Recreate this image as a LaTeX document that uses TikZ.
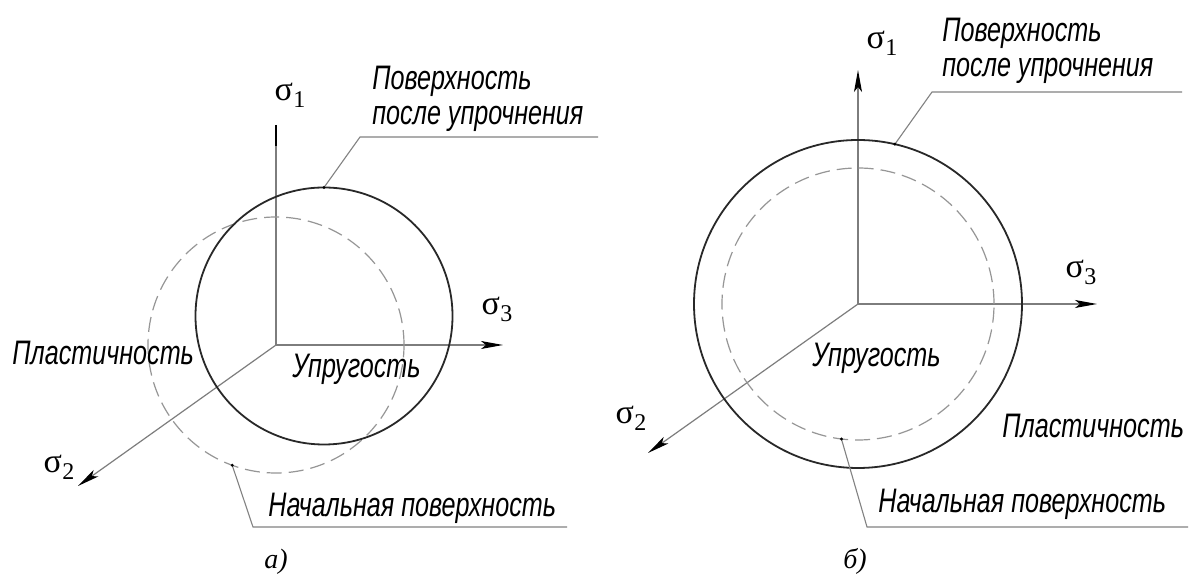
\documentclass[tikz,border=0pt]{standalone}
\usepackage{fontspec}
\setmainfont{Liberation Serif}
\newfontfamily\gostfont[FakeStretch=0.74]{Liberation Sans}
\usetikzlibrary{arrows.meta}
\definecolor{axisgray}{RGB}{125,125,125}
\definecolor{dashgray}{RGB}{150,150,150}
\definecolor{leadgray}{RGB}{130,130,130}
\definecolor{solidc}{RGB}{40,40,40}
\newcommand{\sig}[1]{σ\kern0.3pt\raisebox{-3.5pt}{\fontsize{12}{13}\selectfont #1}}
\begin{document}
\begin{tikzpicture}[x=0.5pt,y=-0.5pt,
  axisline/.style={draw=axisgray, line width=0.6pt},
  axarrow/.style={axisline, -{Stealth[length=11pt,width=4pt,inset=2.5pt,color=black]}},
  solidcirc/.style={circle, draw=solidc, line width=0.9pt, inner sep=0pt, outer sep=0pt},
  dashcirc/.style={circle, draw=dashgray, line width=0.6pt, dash pattern=on 7.5pt off 3.5pt, inner sep=0pt, outer sep=0pt},
  leader/.style={draw=leadgray, line width=0.55pt},
  gosttext/.style={font=\gostfont\itshape\fontsize{17}{19}\selectfont, inner sep=0pt, anchor=base west},
  siglabel/.style={font=\fontsize{17}{19}\selectfont, inner sep=0pt},
  caption/.style={font=\itshape\fontsize{14}{16}\selectfont, inner sep=0pt, anchor=base}]
\fill[white] (0,0) rectangle (1189,576);
\useasboundingbox (0,0) rectangle (1189,576);

% ---------- figure a ----------
\coordinate (Oa) at (276,345);
\coordinate (a1) at (276,125);
\coordinate (a1b) at (276,146);
\coordinate (a3) at (503,345);
\coordinate (a2) at (78,486);
\draw[axisline] (Oa) -- (a1);
\draw[line width=1pt, black] (a1) -- (a1b);
\draw[axarrow] (Oa) -- (a3);
\draw[axarrow] (Oa) -- (a2);

\node[dashcirc, minimum size=128pt] (Da) at (276,345) {};
\node[solidcirc, minimum size=128.5pt] (Sa) at (324,316) {};

\node[siglabel] (s1a) at (290,95) {\sig{1}};
\node[siglabel] (s3a) at (497,309) {\sig{3}};
\node[siglabel] (s2a) at (59,467) {\sig{2}};

\coordinate (la1) at (360,137);
\coordinate (la2) at (598,137);
\draw[leader] (Sa.90) -- (la1) -- (la2);
\fill (Sa.90) circle (0.8pt);
\node[gosttext] (ta1) at (372,90) {Поверхность};
\node[gosttext] (ta2) at (372,125) {после упрочнения};

\coordinate (lb1) at (253,527);
\coordinate (lb2) at (567,527);
\draw[leader] (Da.250.4) -- (lb1) -- (lb2);
\fill (Da.250.4) circle (0.8pt);
\node[gosttext] (ta3) at (268,517) {Начальная поверхность};

\node[gosttext] (ta4) at (12,365) {Пластичность};
\node[gosttext] (ta5) at (292,378) {Упругость};
\node[caption] (capa) at (276,569) {а)};

% ---------- figure b ----------
\coordinate (Ob) at (858,304);
\coordinate (b1) at (858,70);
\coordinate (b3) at (1097,304);
\coordinate (b2) at (648,453);
\draw[axarrow] (Ob) -- (b1);
\draw[axarrow] (Ob) -- (b3);
\draw[axarrow] (Ob) -- (b2);

\node[dashcirc, minimum size=136pt] (Db) at (Ob) {};
\node[solidcirc, minimum size=164pt] (Sb) at (Ob) {};

\node[siglabel] (s1b) at (882,43) {\sig{1}};
\node[siglabel] (s3b) at (1081,272) {\sig{3}};
\node[siglabel] (s2b) at (631,418) {\sig{2}};

\coordinate (lc1) at (932,92);
\coordinate (lc2) at (1182,92);
\draw[leader] (Sb.77.7) -- (lc1) -- (lc2);
\fill (Sb.77.7) circle (0.8pt);
\node[gosttext] (tb1) at (942,42) {Поверхность};
\node[gosttext] (tb2) at (942,77) {после упрочнения};

\coordinate (ld1) at (867,527);
\coordinate (ld2) at (1188,527);
\draw[leader] (Db.263.2) -- (ld1) -- (ld2);
\fill (Db.263.2) circle (0.8pt);
\node[gosttext] (tb3) at (878,513) {Начальная поверхность};

\node[gosttext] (tb4) at (1002,438) {Пластичность};
\node[gosttext] (tb5) at (812,367) {Упругость};
\node[caption] (capb) at (855,569) {б)};
\end{tikzpicture}
\end{document}
